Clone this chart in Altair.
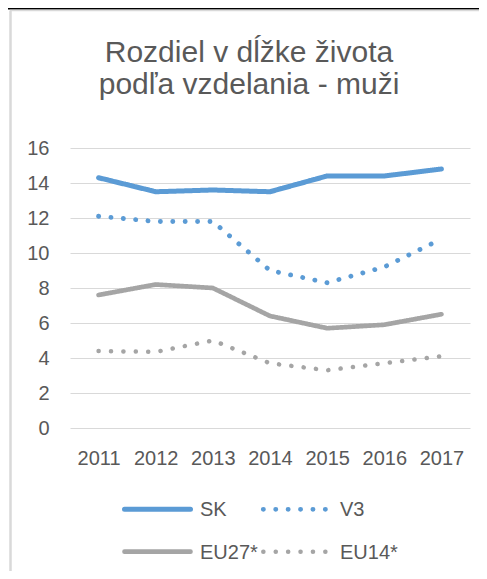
import altair as alt
import pandas as pd

years = ["2011", "2012", "2013", "2014", "2015", "2016", "2017"]
sk = [14.3, 13.5, 13.6, 13.5, 14.4, 14.4, 14.8]
v3 = [12.1, 11.8, 11.8, 9.0, 8.3, 9.2, 10.8]
eu27 = [7.6, 8.2, 8.0, 6.4, 5.7, 5.9, 6.5]
eu14 = [4.4, 4.35, 5.0, 3.7, 3.3, 3.7, 4.1]

series = ["SK", "V3", "EU27*", "EU14*"]
colors = ["#5B9BD5", "#5B9BD5", "#A5A5A5", "#A5A5A5"]
dashes = [[1, 0], [0.1, 12.3], [1, 0], [0.1, 12.3]]
widths = [5, 4.5, 5, 4.5]
y_ticks = [0, 2, 4, 6, 8, 10, 12, 14, 16]
title_lines = ["Rozdiel v dĺžke života", "podľa vzdelania - muži"]

rows = []
for name, vals in zip(series, [sk, v3, eu27, eu14]):
    for yr, v in zip(years, vals):
        rows.append({"year": yr, "value": v, "series": name})
df = pd.DataFrame(rows)
legend_df = pd.DataFrame({"series": series, "idx": list(range(len(series)))})

TXT = "#595959"
FONT = "Liberation Sans"

stroke_enc = alt.Stroke("series:N", sort=series, scale=alt.Scale(domain=series, range=colors),
                        legend=None)
dash_enc = alt.StrokeDash("series:N", sort=series,
                          scale=alt.Scale(domain=series, range=dashes), legend=None)
width_enc = alt.StrokeWidth("series:N", sort=series,
                            scale=alt.Scale(domain=series, range=widths), legend=None)

x_enc = alt.X("year:O", sort=years, title=None,
              axis=alt.Axis(labelFontSize=20, labelColor=TXT, labelFont=FONT, labelAngle=0,
                            labelPadding=20, ticks=False, domain=False, grid=False))
y_enc = alt.Y("value:Q", title=None, scale=alt.Scale(domain=[0, 16], nice=False),
              axis=alt.Axis(values=y_ticks, labelFontSize=20, labelColor=TXT, labelFont=FONT,
                            labelPadding=21, ticks=False, domain=False, grid=True,
                            gridColor="#D9D9D9", gridWidth=1, labelOverlap=False))

lines = alt.Chart(df).mark_line(strokeCap="round", strokeJoin="round").encode(
    x=x_enc, y=y_enc, stroke=stroke_enc, strokeDash=dash_enc, strokeWidth=width_enc,
)

# legend drawn from the same series list and the same stroke / dash scales
legend_base = alt.Chart(legend_df).transform_calculate(
    col="datum.idx % 2", row="floor(datum.idx / 2)"
).transform_calculate(
    sx="54.5 + datum.col * 138.8", sx2="54.5 + datum.col * 138.8 + 66",
    sy="361.3 + datum.row * 42.4", lx="130 + datum.col * 140",
)
legend_symbols = legend_base.mark_rule(strokeCap="round").encode(
    x=alt.X("sx:Q", scale=None), x2="sx2:Q", y=alt.Y("sy:Q", scale=None),
    stroke=stroke_enc, strokeDash=dash_enc, strokeWidth=width_enc,
)
legend_labels = legend_base.mark_text(align="left", baseline="middle", fontSize=20,
                                      font=FONT, color=TXT, dy=1).encode(
    x=alt.X("lx:Q", scale=None), y=alt.Y("sy:Q", scale=None), text="series:N",
)

one = pd.DataFrame({"a": [0]})
black_top = alt.Chart(one).mark_rule(color="#000000", strokeWidth=1.6).encode(
    x=alt.value(-62), x2=alt.value(409), y=alt.value(-139.2), y2=alt.value(-139.2))
grey_top = alt.Chart(one).mark_rule(color="#D9D9D9", strokeWidth=1.5).encode(
    x=alt.value(-60), x2=alt.value(409), y=alt.value(-137.5), y2=alt.value(-137.5))
grey_left = alt.Chart(one).mark_rule(color="#D9D9D9", strokeWidth=2.5).encode(
    x=alt.value(-59.5), x2=alt.value(-59.5), y=alt.value(-137.5), y2=alt.value(431))

title1 = alt.Chart(one).mark_text(fontSize=30, font=FONT, color=TXT, align="center",
                                  baseline="alphabetic").encode(
    x=alt.value(179), y=alt.value(-86.3), text=alt.value(title_lines[0]))
title2 = alt.Chart(one).mark_text(fontSize=30, font=FONT, color=TXT, align="center",
                                  baseline="alphabetic").encode(
    x=alt.value(179), y=alt.value(-54.5), text=alt.value(title_lines[1]))

chart = alt.layer(black_top, grey_top, grey_left, title1, title2, lines,
                  legend_symbols, legend_labels).properties(
    width=400, height=280,
    autosize=alt.AutoSizeParams(type="none"),
    padding={"left": 62, "top": 140, "right": 9, "bottom": 143},
).configure_view(stroke=None)

chart.save("out.html", embed_options={"renderer": "svg", "actions": False})
